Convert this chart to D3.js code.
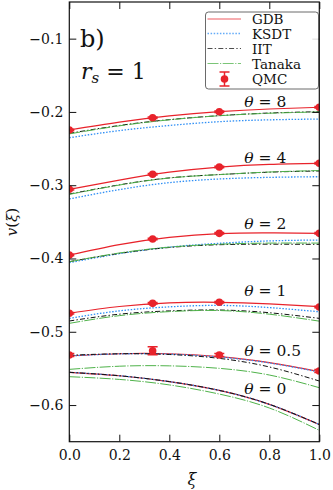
<!DOCTYPE html>
<html><head><meta charset="utf-8">
<script src="https://cdn.jsdelivr.net/npm/d3@7"></script>
<style>body{margin:0;background:#fff} svg text{font-family:"DejaVu Serif",serif;fill:#111}</style>
</head><body><svg id="c" width="333" height="490"></svg>
<script>
// ---- data ----
const xiGrid = [0, 0.2, 0.4, 0.6, 0.8, 1.0];
const thetaLabels = ["8", "4", "2", "1", "0.5", "0"];
// model curves, one row per theta (8,4,2,1,0.5,0), values at xiGrid
const GDB = [
  [-0.2247, -0.2140, -0.2055, -0.1997, -0.1960, -0.1937],
  [-0.3056, -0.2930, -0.2822, -0.2752, -0.2715, -0.2701],
  [-0.3953, -0.3810, -0.3712, -0.3660, -0.3650, -0.3657],
  [-0.4748, -0.4655, -0.4605, -0.4598, -0.4620, -0.4658],
  [-0.5330, -0.5300, -0.5300, -0.5340, -0.5420, -0.5545],
  [-0.5553, -0.5600, -0.5680, -0.5800, -0.5990, -0.6265]
];
const KSDT = [
  [-0.2352, -0.2255, -0.2185, -0.2133, -0.2108, -0.2097],
  [-0.3188, -0.3060, -0.2965, -0.2915, -0.2893, -0.2884],
  [-0.4057, -0.3935, -0.3845, -0.3793, -0.3760, -0.3748],
  [-0.4817, -0.4715, -0.4660, -0.4640, -0.4670, -0.4727],
  [-0.5330, -0.5302, -0.5305, -0.5345, -0.5425, -0.5550],
  [-0.5553, -0.5600, -0.5680, -0.5800, -0.5990, -0.6265]
];
const IIT = [
  [-0.2292, -0.2185, -0.2105, -0.2051, -0.2015, -0.1997],
  [-0.3120, -0.2995, -0.2900, -0.2855, -0.2822, -0.2806],
  [-0.4043, -0.3930, -0.3850, -0.3812, -0.3805, -0.3807],
  [-0.4853, -0.4760, -0.4715, -0.4703, -0.4740, -0.4817],
  [-0.5320, -0.5300, -0.5310, -0.5363, -0.5480, -0.5672],
  [-0.5553, -0.5600, -0.5680, -0.5800, -0.5990, -0.6265]
];
const Tanaka = [
  [-0.2300, -0.2190, -0.2108, -0.2052, -0.2018, -0.2000],
  [-0.3125, -0.2998, -0.2902, -0.2855, -0.2820, -0.2800],
  [-0.4045, -0.3925, -0.3845, -0.3805, -0.3790, -0.3790],
  [-0.4885, -0.4780, -0.4725, -0.4710, -0.4760, -0.4855],
  [-0.5513, -0.5470, -0.5465, -0.5499, -0.5590, -0.5763],
  [-0.5613, -0.5650, -0.5725, -0.5850, -0.6040, -0.6345]
];
// QMC points for theta = 8,4,2,1,0.5
const qmcXi = [0, 1/3, 0.6, 1.0];
const qmcV = [
  [-0.2247, -0.2079, -0.1997, -0.1937],
  [-0.3056, -0.2851, -0.2752, -0.2701],
  [-0.3953, -0.3734, -0.3657, -0.3657],
  [-0.4748, -0.4612, -0.4598, -0.4662],
  [-0.5317, -0.5258, -0.5317, -0.5536]
];
const qmcErr = [
  [0.001, 0.001, 0.001, 0.001],
  [0.001, 0.001, 0.001, 0.001],
  [0.001, 0.001, 0.001, 0.001],
  [0.001, 0.001, 0.001, 0.001],
  [0.002, 0.0055, 0.002, 0.002]
];
const xTicks = [0, 0.2, 0.4, 0.6, 0.8, 1.0];
const yTicks = [-0.6, -0.5, -0.4, -0.3, -0.2, -0.1];
const legendNames = ["GDB", "KSDT", "IIT", "Tanaka", "QMC"];
// label anchors (xi, v) for theta annotations
const labelXi = [0.70, 0.70, 0.70, 0.70, 0.70, 0.70];
const labelV = [-0.1933, -0.2701, -0.3602, -0.4512, -0.5331, -0.5850];

// ---- layout ----
const W = 333, H = 490;
const m = {l: 69.3, r: 13.7, t: 2, b: 48.3};
const FF = "DejaVu Serif, serif";
const svg = d3.select("#c");
const x = d3.scaleLinear().domain([0, 1]).range([m.l, W - m.r]);
const y = d3.scaleLinear().domain([-0.65, -0.05]).range([H - m.b, m.t]);

const styles = {
  GDB:    {color: "#e8232b", dash: null, w: 1.2},
  KSDT:   {color: "#2f8ff5", dash: "1.5,1.6", w: 1.3},
  IIT:    {color: "#111", dash: "5,2.2,1.4,2.2", w: 1.0},
  Tanaka: {color: "#4fb24a", dash: "11,1.5,1.2,1.5", w: 1.0}
};

svg.append("clipPath").attr("id", "clip").append("rect")
  .attr("x", x(0)).attr("y", y(-0.05)).attr("width", x(1) - x(0)).attr("height", y(-0.65) - y(-0.05));

const g = svg.append("g").attr("clip-path", "url(#clip)");
const line = d3.line().x((d, i) => x(xiGrid[i])).y(d => y(d)).curve(d3.curveNatural);

[["GDB", GDB], ["KSDT", KSDT], ["IIT", IIT], ["Tanaka", Tanaka]].forEach(([name, rows]) => {
  const s = styles[name];
  rows.forEach(r => {
    g.append("path").attr("d", line(r)).attr("fill", "none")
      .attr("stroke", s.color).attr("stroke-width", s.w)
      .attr("stroke-dasharray", s.dash);
  });
});

// QMC
qmcV.forEach((row, k) => {
  row.forEach((v, i) => {
    const cx = x(qmcXi[i]), e = qmcErr[k][i];
    const y1 = y(v + e), y2 = y(v - e);
    g.append("line").attr("x1", cx).attr("x2", cx).attr("y1", y1).attr("y2", y2)
      .attr("stroke", "#e8232b").attr("stroke-width", 1.5);
    [y1, y2].forEach(yy => g.append("line").attr("x1", cx - 5).attr("x2", cx + 5)
      .attr("y1", yy).attr("y2", yy).attr("stroke", "#e8232b").attr("stroke-width", 1.5));
    g.append("circle").attr("cx", cx).attr("cy", y(v)).attr("r", 3.8).attr("fill", "#e8232b");
  });
});

// axes
const fmt = d3.format(".1f");
const axL = svg.append("g").attr("transform", `translate(${x(0)},0)`)
  .call(d3.axisLeft(y).tickValues(yTicks).tickFormat(fmt).tickSizeInner(-7).tickSizeOuter(0).tickPadding(6));
const axR = svg.append("g").attr("transform", `translate(${x(1)},0)`)
  .call(d3.axisRight(y).tickValues(yTicks).tickFormat("").tickSizeInner(-7).tickSizeOuter(0));
const axB = svg.append("g").attr("transform", `translate(0,${y(-0.65)})`)
  .call(d3.axisBottom(x).tickValues(xTicks).tickFormat(fmt).tickSizeInner(-7).tickSizeOuter(0).tickPadding(8));
const axT = svg.append("g").attr("transform", `translate(0,${y(-0.05)})`)
  .call(d3.axisTop(x).tickValues(xTicks).tickFormat("").tickSizeInner(-7).tickSizeOuter(0));
[axL, axR, axB, axT].forEach(a => {
  a.attr("font-family", FF);
  a.select(".domain").remove();
  a.selectAll("line").attr("stroke", "#111").attr("stroke-width", 1);
  a.selectAll("text").attr("font-size", 14).attr("fill", "#111");
});
svg.append("rect").attr("x", x(0)).attr("y", y(-0.05)).attr("width", x(1) - x(0))
  .attr("height", y(-0.65) - y(-0.05)).attr("fill", "none").attr("stroke", "#111").attr("stroke-width", 1.2);

// axis labels
svg.append("text").attr("x", x(0.49)).attr("y", 485).attr("text-anchor", "middle")
  .attr("font-size", 16).attr("font-style", "italic").text("ξ");
svg.append("text").attr("transform", "translate(17,222) rotate(-90)").attr("text-anchor", "middle")
  .attr("font-size", 15).html('<tspan font-style="italic">v</tspan>(<tspan font-style="italic">ξ</tspan>)');

// panel texts
svg.append("text").attr("x", 80).attr("y", 47).attr("font-size", 24).text("b)");
const rs = svg.append("text").attr("x", 81).attr("y", 79).attr("font-size", 22);
rs.append("tspan").attr("font-style", "italic").text("r");
rs.append("tspan").attr("font-style", "italic").attr("font-size", 15).attr("dy", 4).text("s");
rs.append("tspan").attr("dy", -4).text(" = 1");

// theta labels
thetaLabels.forEach((t, k) => {
  const tx = svg.append("text").attr("x", x(labelXi[k])).attr("y", y(labelV[k])).attr("font-size", 15.5);
  tx.append("tspan").attr("font-style", "italic").text("θ");
  tx.append("tspan").text(" = " + t);
});

// legend
const lg = svg.append("g");
lg.append("rect").attr("x", 205.5).attr("y", 12).attr("width", 113).attr("height", 77).attr("rx", 3)
  .attr("fill", "#fff").attr("fill-opacity", 0.85).attr("stroke", "#444").attr("stroke-width", 0.8);
const rowY = [19, 33.5, 48.5, 63.5, 79];
["GDB", "KSDT", "IIT", "Tanaka"].forEach((n, i) => {
  const s = styles[n];
  lg.append("line").attr("x1", 207.5).attr("x2", 241).attr("y1", rowY[i]).attr("y2", rowY[i])
    .attr("stroke", s.color).attr("stroke-width", s.w).attr("stroke-dasharray", s.dash).attr("stroke-opacity", 0.75);
});
{
  const cx = 224.5, cy = rowY[4];
  lg.append("line").attr("x1", cx).attr("x2", cx).attr("y1", cy - 7).attr("y2", cy + 7).attr("stroke", "#e8232b").attr("stroke-width", 1.5);
  [cy - 7, cy + 7].forEach(yy => lg.append("line").attr("x1", cx - 5).attr("x2", cx + 5).attr("y1", yy).attr("y2", yy).attr("stroke", "#e8232b").attr("stroke-width", 1.5));
  lg.append("circle").attr("cx", cx).attr("cy", cy).attr("r", 3.8).attr("fill", "#e8232b");
}
legendNames.forEach((n, i) => {
  lg.append("text").attr("x", 252).attr("y", rowY[i] + 5).attr("font-size", 13.5).text(n);
});
</script>
</body></html>
